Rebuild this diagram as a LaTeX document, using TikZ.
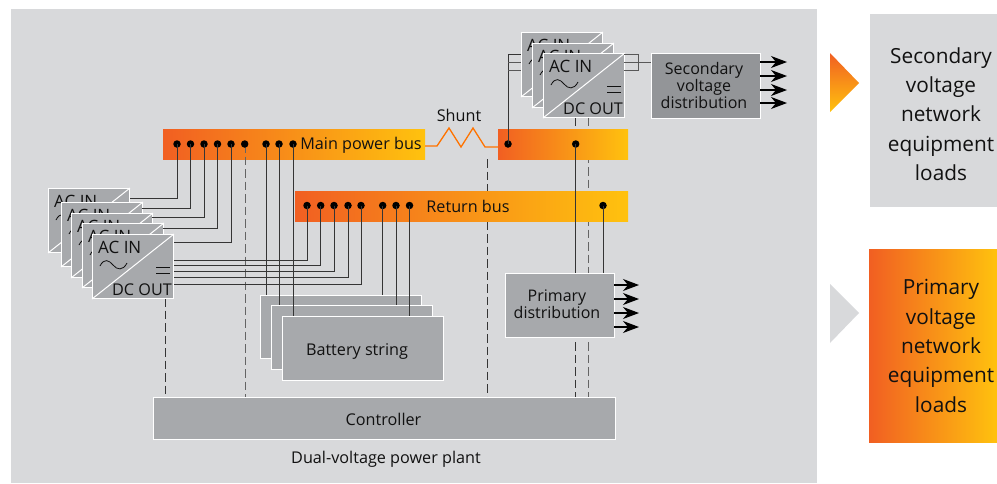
\documentclass[tikz,border=0pt]{standalone}
\usepackage{fontspec}
\setmainfont{Open Sans}
\usetikzlibrary{arrows.meta}
\definecolor{panel}{HTML}{D8D9DB}
\definecolor{boxgray}{HTML}{A7A9AC}
\definecolor{darkgray}{HTML}{939598}
\definecolor{busL}{HTML}{F15F22}
\definecolor{busR}{HTML}{FFC20E}
\definecolor{ink}{HTML}{111111}
\tikzset{
 x=1pt,y=-1pt,
 gbox/.style={draw=white,line width=1pt,fill=boxgray,inner sep=0pt,anchor=north west,text=ink,align=center,font=\fontsize{16}{15.7}\selectfont},
 busbar/.style={inner sep=0pt,anchor=north west,left color=busL,right color=busR},
 wire/.style={draw=ink!85,line width=0.9pt},
 dashw/.style={draw=ink!85,line width=0.9pt,dash pattern=on 8.5pt off 4pt},
 dotn/.style={circle,fill=black,inner sep=0pt,minimum size=7.5pt},
 arr/.style={draw=black,line width=1.1pt,-{Stealth[length=16pt,width=12pt,inset=5pt]}},
 lbl/.style={text=ink,font=\fontsize{16.2}{16}\selectfont,inner sep=0pt},
 big/.style={align=center,text=ink,font=\fontsize{20.8}{29.3}\selectfont,inner sep=0pt},
}
\newcommand{\inv}[3]{% name, x, y
 \node[gbox,minimum width=81pt,minimum height=64pt] (#1) at (#2,#3) {};
 \draw[white,line width=1pt] (#1.south west) -- (#1.north east);
 \node[lbl,anchor=west,font=\fontsize{17}{17}\selectfont] (#1a) at ([xshift=6pt,yshift=-13pt]#1.north west) {AC IN};
 \draw[ink,line width=0.8pt] ([xshift=8pt,yshift=-32pt]#1.north west) .. controls +(4,-8) and +(-4,-5) .. ([xshift=21pt,yshift=-31pt]#1.north west) .. controls +(4,5) and +(-4,8) .. ([xshift=35pt,yshift=-29pt]#1.north west);
 \draw[ink,line width=0.9pt] ([xshift=-18pt,yshift=-33pt]#1.north east) -- ++(14,0) ([xshift=-18pt,yshift=-39pt]#1.north east) -- ++(14,0);
 \node[lbl,anchor=east,font=\fontsize{16.2}{15}\selectfont] (#1b) at ([xshift=-2pt,yshift=9pt]#1.south east) {DC OUT};
}
\begin{document}
\begin{tikzpicture}
\useasboundingbox (0,0) rectangle (997,483);
\fill[panel] (11,9) rectangle (817,483);
% right side
\node[fill=panel,inner sep=0pt,anchor=north west,minimum width=127pt,minimum height=193pt] (secbox) at (870,14) {};
\node[big,anchor=center] (sect) at (941,114) {Secondary\\voltage\\network\\equipment\\loads};
\node[inner sep=0pt,anchor=north west,minimum width=128pt,minimum height=193pt,left color=busL,right color=busR] (pribox) at (869,249) {};
\node[big,anchor=center] (prit) at (941,346) {Primary\\voltage\\network\\equipment\\loads};
\shade[top color=busL,bottom color=busR] (830,53) -- (859,83) -- (830,112) -- cycle;
\fill[panel] (830,284) -- (859,313) -- (830,343) -- cycle;

% dashed lines
\coordinate (dA) at (165,298); \coordinate (dB) at (245,144); \coordinate (dC) at (487,159);
\coordinate (dD) at (575.7,117); \coordinate (dE) at (588,117);
\coordinate (cA) at (165,397); \coordinate (cB) at (245,397); \coordinate (cC) at (487,397);
\coordinate (cD) at (575.7,397); \coordinate (cE) at (588,397);
\draw[dashw] (dA) -- (cA);
\draw[dashw] (dC) -- (cC);
\draw[dashw] (dD) -- (cD);
\draw[dashw,draw=ink!65] (dE) -- (cE);

% buses
\node[busbar,minimum width=262pt,minimum height=30pt] (mainbus) at (163,129) {};
\node[busbar,minimum width=130pt,minimum height=30pt] (rbus) at (498,129) {};
\node[busbar,minimum width=333pt,minimum height=30pt] (retbus) at (295,191) {};
\draw[dashw,draw=ink!65] (dB) -- (cB);
\node[lbl] (mainl) at (361,145) {Main power bus};
\node[lbl] (retl) at (468,206) {Return bus};
\node[lbl] (shunt) at (459,115) {Shunt};
\draw[orange!90!red,line width=1.3pt] (425,146) -- (437,146) -- (449,128) -- (461,147) -- (473,128) -- (485,147) -- (498,147);

% batteries
\node[gbox,minimum width=161pt,minimum height=63pt] (b1) at (260,295) {};
\node[gbox,minimum width=161pt,minimum height=64pt] (b2) at (271,305) {};
\node[gbox,minimum width=161pt,minimum height=64pt] (b3) at (282,316) {};
\node[lbl] (b3l) at (357,351) {Battery string};

% controller, primary
\node[gbox,minimum width=462pt,minimum height=42pt] (ctrl) at (153,397) {};
\node[lbl] (ctrll) at (383.5,419) {Controller};
\node[gbox,minimum width=109pt,minimum height=64pt] (prim) at (505,273) {};
\node[lbl,align=center,font=\fontsize{16}{15.7}\selectfont] (priml) at (557,304.5) {Primary\\distribution};
\node[gbox,fill=darkgray,minimum width=109pt,minimum height=65pt] (sec) at (651,53) {};
\node[lbl,align=center,font=\fontsize{16}{15.7}\selectfont] (secl) at (704,85) {Secondary\\voltage\\distribution};
\node[lbl] (plant) at (386,459) {Dual-voltage power plant};

% dots
\foreach \n/\x in {m1/177,m2/190.5,m3/204,m4/217.5,m5/231,m6/244.7,m7/266,m8/279,m9/293,s1/508,s2/575.7}
  \node[dotn] (\n) at (\x,144) {};
\foreach \n/\x in {r1/307,r2/320.7,r3/334,r4/348,r5/361,r6/382.7,r7/396,r8/409.5,r9/603}
  \node[dotn] (\n) at (\x,205.5) {};

% inverters left
\inv{i1}{48}{188}
\inv{i2}{61}{202}
\inv{i3}{71}{213}
\inv{i4}{82}{223}
\inv{i5}{92}{234}
% top inverters
\inv{t1}{521}{32}
\inv{t2}{532}{43}
\inv{t3}{543}{53}

% wires to main bus
\draw[wire] (m1.center) |- (130,198);
\draw[wire] (m2.center) |- (142,208);
\draw[wire] (m3.center) |- (152,217);
\draw[wire] (m4.center) |- (163,228);
\draw[wire] (m5.center) |- (174,242);
\draw[wire] (r1.center) |- (174,260);
\draw[wire] (r2.center) |- (174,265.5);
\draw[wire] (r3.center) |- (174,271);
\draw[wire] (r4.center) |- (174,277.5);
\draw[wire] (r5.center) |- (174,284);
\draw[wire] (m7.center) -- (m7|-b1.north);
\draw[wire] (m8.center) -- (m8|-b2.north);
\draw[wire] (m9.center) -- (m9|-b3.north);
\draw[wire] (r6.center) -- (r6|-b1.north);
\draw[wire] (r7.center) -- (r7|-b2.north);
\draw[wire] (r8.center) -- (r8|-b3.north);
\draw[wire] (s2.center) -- (s2|-prim.north);
\draw[wire] (r9.center) -- (r9|-prim.north);
\draw[wire] (s1.center) -- (508,54) -- (521,54);
\draw[wire,draw=ink!70] (508,62) -- (521,62) (508,70) -- (521,70);
\draw[wire,draw=ink!70] (624,54) -- (638,54) -- (638,70.5) -- (624,70.5) (624,62) -- (638,62);
\draw[wire,draw=ink!70] (638,62) -- (651,62);
% arrows
\foreach \y in {62,76,90,103} \draw[arr] (760,\y) -- (787,\y);
\foreach \y in {285,299,313,327} \draw[arr] (614,\y) -- (639,\y);
\end{tikzpicture}
\end{document}
